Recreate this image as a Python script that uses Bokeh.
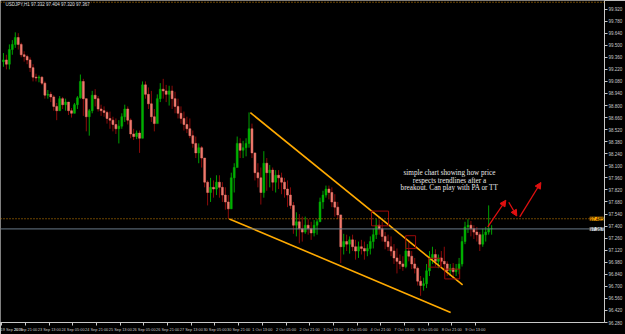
from bokeh.plotting import figure
from bokeh.models import (Range1d, LinearAxis, FixedTicker, PrintfTickFormatter,
                          ColumnDataSource, Span, Label, Arrow, NormalHead)
from bokeh.core.properties import value
from bokeh.embed import file_html
from bokeh.resources import INLINE

# ---------------- data ----------------
title_text = "USDJPY,H1  97.332 97.404 97.320 97.367"

first_open = 99.31
closes = [
    99.33, 99.28, 99.45, 99.51, 99.59, 99.51, 99.39, 99.37, 99.33, 99.24,
    99.13, 99.12, 99.13, 99.06, 98.92, 98.93, 98.90, 98.79, 98.74, 98.88,
    98.81, 98.84, 98.74, 98.71, 98.81, 98.89, 99.08, 98.88, 98.67, 98.74,
    98.92, 98.88, 98.76, 98.74, 98.72, 98.65, 98.63, 98.58, 98.53, 98.56,
    98.67, 98.76, 98.63, 98.47, 98.44, 98.48, 98.42, 99.04, 98.93, 98.82,
    98.67, 98.59, 98.88, 98.99, 98.97, 98.93, 98.97, 98.88, 98.79, 98.71,
    98.65, 98.58, 98.53, 98.45, 98.36, 98.25, 98.31, 98.19, 97.91, 97.79,
    97.85, 97.83, 97.91, 97.85, 97.76, 97.68, 97.60, 97.96, 98.08, 98.36,
    98.28, 98.31, 98.36, 98.53, 98.25, 98.02, 97.96, 97.79, 98.13, 98.02,
    98.05, 97.91, 97.99, 97.96, 97.91, 97.83, 97.76, 97.64, 97.41, 97.45,
    97.37, 97.33, 97.41, 97.37, 97.32, 97.41, 97.45, 97.68, 97.76, 97.83,
    97.79, 97.68, 97.62, 97.53, 97.16, 97.22, 97.19, 97.24, 97.16, 97.11,
    97.16, 97.14, 97.11, 97.14, 97.22, 97.30, 97.41, 97.37, 97.28, 97.22,
    97.16, 97.11, 97.03, 96.99, 96.96, 96.93, 97.11, 97.05, 96.96, 96.91,
    96.76, 96.71, 96.73, 96.88, 97.03, 97.07, 96.99, 97.03, 96.99, 96.96,
    96.88, 96.91, 96.87, 96.90, 96.96, 97.22, 97.39, 97.41, 97.37, 97.33,
    97.30, 97.19, 97.30, 97.33, 97.37, 97.37,
]
highs = [
    99.41, 99.39, 99.51, 99.56, 99.65, 99.64, 99.53, 99.43, 99.39, 99.36,
    99.28, 99.17, 99.15, 99.14, 99.08, 98.98, 98.96, 98.92, 98.83, 98.91,
    98.90, 98.88, 98.84, 98.77, 98.83, 98.91, 99.16, 99.11, 98.88, 98.76,
    98.97, 98.99, 98.91, 98.81, 98.79, 98.74, 98.73, 98.67, 98.65, 98.63,
    98.71, 98.81, 98.79, 98.65, 98.53, 98.51, 98.51, 99.08, 99.08, 99.01,
    98.97, 98.76, 98.93, 99.06, 99.11, 99.04, 99.03, 99.03, 98.96, 98.88,
    98.79, 98.73, 98.67, 98.65, 98.51, 98.44, 98.36, 98.33, 98.19, 97.93,
    97.96, 97.93, 97.99, 97.99, 97.91, 97.85, 97.76, 98.02, 98.13, 98.44,
    98.42, 98.39, 98.42, 98.72, 98.59, 98.25, 98.13, 98.08, 98.27, 98.19,
    98.11, 98.08, 98.05, 98.05, 98.02, 97.96, 97.93, 97.85, 97.68, 97.56,
    97.54, 97.51, 97.51, 97.48, 97.45, 97.47, 97.48, 97.73, 97.81, 97.87,
    97.87, 97.85, 97.77, 97.68, 97.53, 97.31, 97.30, 97.28, 97.30, 97.24,
    97.22, 97.24, 97.22, 97.19, 97.28, 97.37, 97.48, 97.47, 97.45, 97.33,
    97.30, 97.28, 97.19, 97.14, 97.07, 97.05, 97.22, 97.24, 97.11, 97.03,
    96.93, 96.82, 96.80, 96.96, 97.11, 97.16, 97.13, 97.07, 97.11, 97.16,
    96.99, 96.96, 96.97, 96.96, 97.03, 97.28, 97.45, 97.48, 97.46, 97.41,
    97.39, 97.33, 97.37, 97.39, 97.64, 97.41,
]
lows = [
    99.25, 99.22, 99.22, 99.39, 99.47, 99.45, 99.36, 99.31, 99.28, 99.19,
    99.08, 99.08, 99.07, 99.04, 98.88, 98.88, 98.84, 98.74, 98.63, 98.74,
    98.76, 98.74, 98.69, 98.66, 98.71, 98.76, 98.88, 98.68, 98.50, 98.45,
    98.71, 98.79, 98.73, 98.68, 98.67, 98.59, 98.53, 98.50, 98.47, 98.36,
    98.53, 98.61, 98.58, 98.42, 98.40, 98.41, 98.25, 98.42, 98.88, 98.76,
    98.61, 98.50, 98.63, 98.84, 98.88, 98.84, 98.80, 98.76, 98.71, 98.65,
    98.59, 98.51, 98.48, 98.42, 98.31, 98.19, 98.13, 98.08, 97.85, 97.64,
    97.68, 97.73, 97.76, 97.73, 97.68, 97.59, 97.48, 97.60, 97.79, 98.10,
    98.19, 98.19, 98.21, 98.31, 98.19, 97.93, 97.85, 97.65, 97.73, 97.81,
    97.85, 97.81, 97.79, 97.83, 97.77, 97.73, 97.62, 97.60, 97.31, 97.28,
    97.20, 97.22, 97.31, 97.30, 97.24, 97.28, 97.30, 97.45, 97.60, 97.73,
    97.71, 97.62, 97.51, 97.48, 96.97, 97.07, 97.11, 97.08, 97.11, 97.01,
    97.03, 97.07, 97.01, 97.05, 97.07, 97.14, 97.25, 97.30, 97.22, 97.13,
    97.11, 97.05, 96.96, 96.85, 96.90, 96.88, 96.91, 96.99, 96.90, 96.85,
    96.71, 96.59, 96.65, 96.68, 96.82, 96.96, 96.93, 96.91, 96.93, 96.90,
    96.82, 96.82, 96.80, 96.82, 96.84, 96.93, 97.19, 97.32, 97.28, 97.25,
    97.22, 97.11, 97.16, 97.22, 97.30, 97.30,
]

# x axis: hours since the first bar, one tick every 16 hours
x_tick_hours = [0, 16, 32, 48, 64, 80, 96, 112, 128, 144, 160,
                176, 192, 208, 224, 240, 256, 272, 288, 304, 320]
x_tick_labels = ["19 Sep 2013", "20 Sep 21:00", "23 Sep 13:00", "24 Sep 05:00",
                 "24 Sep 21:00", "25 Sep 13:00", "26 Sep 05:00", "26 Sep 21:00",
                 "27 Sep 13:00", "30 Sep 05:00", "30 Sep 21:00", "1 Oct 13:00",
                 "2 Oct 05:00", "2 Oct 21:00", "3 Oct 13:00", "4 Oct 05:00",
                 "4 Oct 21:00", "7 Oct 13:00", "8 Oct 05:00", "8 Oct 21:00",
                 "9 Oct 13:00"]
y_ticks = [96.28, 96.42, 96.56, 96.70, 96.84, 96.98, 97.12, 97.26, 97.40,
           97.54, 97.68, 97.82, 97.96, 98.10, 98.24, 98.38, 98.52, 98.66,
           98.80, 98.94, 99.08, 99.22, 99.36, 99.50, 99.64, 99.78, 99.92]

ask_price = 97.485
bid_price = 97.367
top_level = 100.000

upper_trend_x = [167.9, 311.4]
upper_trend_y = [98.717, 96.717]
lower_trend_x = [153.7, 303.3]
lower_trend_y = [97.483, 96.397]

box_left = [249.8, 272.9, 288.4, 299.3]
box_right = [261.3, 279.6, 296.5, 309.4]
box_top = [97.574, 97.288, 97.026, 96.900]
box_bottom = [97.403, 97.140, 96.923, 96.786]

arrow_x0 = [328.4, 342.6, 350.0]
arrow_y0 = [97.391, 97.677, 97.506]
arrow_x1 = [340.6, 348.0, 364.3]
arrow_y1 = [97.700, 97.517, 97.906]

note_lines = ["simple chart showing how price",
              "respects trendlines after a",
              "breakout. Can play with PA or TT"]
note_x = [302.5, 302.5, 302.5]
note_y = [98.02, 97.925, 97.84]

# ---------------- build ----------------
n = len(closes)
bar_hours = [2 * k + 1 for k in range(n)]
opens = [first_open] + closes[:-1]
up = [c >= o for o, c in zip(opens, closes)]
src = ColumnDataSource(dict(
    x=bar_hours, h=highs, l=lows,
    top=[max(o, c) for o, c in zip(opens, closes)],
    bot=[min(o, c) for o, c in zip(opens, closes)],
    body=["#00B000" if u else "#F07A6E" for u in up],
    wick=["#00A000" if u else "#8B0A0A" for u in up],
))

X0, X1 = -1.0, 407.3
p = figure(width=625, height=334, output_backend="svg", toolbar_location=None,
           x_range=Range1d(X0, X1), y_range=Range1d(96.28, 100.02),
           x_axis_location=None, y_axis_location=None,
           background_fill_color="black", border_fill_color="black",
           outline_line_color=None,
           min_border_left=0, min_border_top=0, min_border_right=0, min_border_bottom=0)
p.xgrid.visible = False
p.ygrid.visible = False

AX = "#C8C8C8"
xaxis = LinearAxis(ticker=FixedTicker(ticks=x_tick_hours),
                   major_label_overrides={h: t for h, t in zip(x_tick_hours, x_tick_labels)})
xaxis.axis_line_color = AX
xaxis.major_tick_line_color = AX
xaxis.major_tick_out = 3
xaxis.major_tick_in = 0
xaxis.minor_tick_line_color = None
xaxis.major_label_standoff = 1
xaxis.major_label_text_font = "Liberation Sans"
xaxis.major_label_text_font_size = "3.9px"
xaxis.major_label_text_color = AX
p.add_layout(xaxis, "below")

yaxis = LinearAxis(ticker=FixedTicker(ticks=y_ticks),
                   formatter=PrintfTickFormatter(format="%.3f"))
yaxis.axis_line_color = AX
yaxis.major_tick_line_color = AX
yaxis.major_tick_out = 3
yaxis.major_tick_in = 0
yaxis.minor_tick_line_color = None
yaxis.major_label_standoff = 1
yaxis.major_label_text_font = "Liberation Sans"
yaxis.major_label_text_font_size = "4.5px"
yaxis.major_label_text_color = AX
p.add_layout(yaxis, "right")

# horizontal levels
p.add_layout(Span(location=top_level, dimension="width", line_color="#D88A00",
                  line_dash="1 2", line_width=1))
p.add_layout(Span(location=ask_price, dimension="width", line_color="#D88A00",
                  line_dash="1 2", line_width=1))
p.add_layout(Span(location=bid_price, dimension="width", line_color="#6A7A8A",
                  line_width=1))

# candles
p.segment(x0="x", y0="h", x1="x", y1="l", line_color="wick", line_width=1, source=src)
p.vbar(x="x", width=1.3, top="top", bottom="bot", fill_color="body",
       line_color="body", line_width=0.5, source=src)

# trend lines
p.line(upper_trend_x, upper_trend_y, line_color="#FFAA00", line_width=1.6)
p.line(lower_trend_x, lower_trend_y, line_color="#FFAA00", line_width=1.6)

# boxes
p.quad(left=box_left, right=box_right, top=box_top, bottom=box_bottom,
       fill_color=None, line_color="#9A0A0A", line_width=1)

# arrows
for xs, ys, xe, ye in zip(arrow_x0, arrow_y0, arrow_x1, arrow_y1):
    p.add_layout(Arrow(end=NormalHead(size=6, fill_color="#E01010", line_color="#E01010"),
                       x_start=xs, y_start=ys, x_end=xe, y_end=ye,
                       line_color="#E01010", line_width=1.3))

# note
p.text(x=note_x, y=note_y, text=note_lines, text_font=value("Liberation Serif"),
       text_font_size="7.2px", text_color="#E8E8E8", text_align="center",
       text_baseline="middle")

# title
p.add_layout(Label(x=X0, y=100.02, x_offset=5, y_offset=-1, text=title_text,
                   text_baseline="top", text_font_size="4.5px", text_color="#E0E0E0",
                   text_font="Liberation Sans",
                   background_fill_color="black"))

# price tags at the scale edge
p.add_layout(Label(x=X1, y=ask_price, x_offset=-1, text="97.485",
                   text_align="right", text_baseline="middle", text_font_size="4.5px",
                   text_color="black", background_fill_color="#FFA500"))
p.add_layout(Label(x=X1, y=bid_price, x_offset=-1, text="97.367",
                   text_align="right", text_baseline="middle", text_font_size="4.5px",
                   text_color="black", background_fill_color="#C8D0D8"))

open("out.html", "w").write(file_html(p, INLINE))
